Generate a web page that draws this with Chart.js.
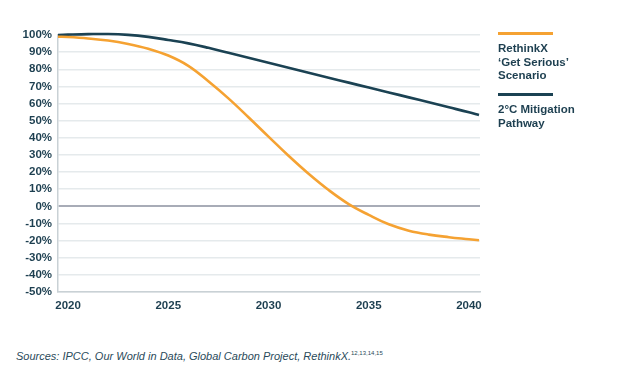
<!DOCTYPE html>
<html>
<head>
<meta charset="utf-8">
<script src="https://cdn.jsdelivr.net/npm/chart.js@4.4.1/dist/chart.umd.min.js"></script>
<style>
  html, body { margin: 0; padding: 0; background: #fff; }
  body { width: 638px; height: 390px; position: relative; overflow: hidden; font-family: "Liberation Sans", Arial, sans-serif; }
  #wrap { position: absolute; left: 0; top: 0; width: 500px; height: 320px; }
  .legend { position: absolute; left: 498px; color: #1d3f50; font-weight: bold; font-size: 11.5px; line-height: 13.5px; }
  .legend .bar { width: 55px; height: 3px; margin-bottom: 7px; }
  #source { position: absolute; left: 16px; top: 350px; font-style: italic; font-size: 11px; color: #2a4a5a; }
  #source sup { font-size: 6px; font-style: normal; vertical-align: 5px; }
</style>
</head>
<body>
<div id="wrap"><canvas id="chart"></canvas></div>
<div class="legend" style="top:32px"><div class="bar" style="background:#f5a232"></div>RethinkX<br>‘Get Serious’<br>Scenario</div>
<div class="legend" style="top:93px"><div class="bar" style="background:#1b4253"></div>2°C Mitigation<br>Pathway</div>
<div id="source">Sources: IPCC, Our World in Data, Global Carbon Project, RethinkX.<sup>12,13,14,15</sup></div>
<script>
// Années (la première et la dernière débordent un peu des graduations)
const years = [2019.5, 2020, 2021, 2022, 2023, 2024, 2025, 2026, 2027, 2028, 2029, 2030,
               2031, 2032, 2033, 2034, 2035, 2036, 2037, 2038, 2039, 2040, 2040.5];
// Scénario RethinkX 'Get Serious' (% des émissions de 2020)
const rethinkx = [99, 98.8, 98, 96.8, 94.8, 92, 88, 82, 73, 63, 52, 40.7,
                  29.5, 19, 9.5, 1.3, -5, -10.5, -14.2, -16.5, -18, -19.2, -19.8];
// Trajectoire 2°C
const mitigation = [100, 100.2, 100.5, 100.6, 100.1, 98.9, 97.1, 95.1, 92.5, 89.6, 86.7, 83.8,
                    80.9, 78, 75.1, 72.2, 69.3, 66.5, 63.6, 60.7, 57.8, 54.9, 53.3];
const xTicks = [2020, 2025, 2030, 2035, 2040];

const tickFont = { family: '"Liberation Sans", Arial, sans-serif', size: 11.5, weight: 'bold' };
const textColor = '#1d3f50';

const toPoints = arr => arr.map((v, i) => ({ x: years[i], y: v }));

new Chart(document.getElementById('chart'), {
    type: 'line',
    data: {
        datasets: [
            {
                label: 'RethinkX ‘Get Serious’ Scenario',
                data: toPoints(rethinkx),
                borderColor: '#f5a232',
                borderWidth: 2.6,
                pointRadius: 0,
                tension: 0.4,
                clip: 4
            },
            {
                label: '2°C Mitigation Pathway',
                data: toPoints(mitigation),
                borderColor: '#1b4253',
                borderWidth: 2.6,
                pointRadius: 0,
                tension: 0.4,
                clip: 4
            }
        ]
    },
    options: {
        responsive: true,
        maintainAspectRatio: false,
        animation: false,
        layout: { padding: { top: 35, right: 20, left: 0, bottom: 0 } },
        plugins: { legend: { display: false }, tooltip: { enabled: false } },
        scales: {
            x: {
                type: 'linear',
                min: 2019.5,
                max: 2040.55,
                afterBuildTicks: scale => { scale.ticks = xTicks.map(v => ({ value: v })); },
                afterFit: scale => { scale.height = 28; },
                grid: { display: false, drawTicks: false },
                border: { display: true, color: '#c9d1d5', width: 1.5 },
                ticks: {
                    font: tickFont,
                    color: textColor,
                    padding: 7,
                    maxRotation: 0,
                    autoSkip: false,
                    callback: v => String(v)
                }
            },
            y: {
                min: -50,
                max: 100,
                afterFit: scale => { scale.width = 58; },
                border: { display: true, color: '#c9d1d5', width: 1.5 },
                grid: {
                    drawTicks: false,
                    color: ctx => ctx.tick.value === 0 ? '#a8acb7' : '#e5eaec',
                    lineWidth: ctx => ctx.tick.value === 0 ? 2 : 1.5
                },
                ticks: {
                    stepSize: 10,
                    font: tickFont,
                    color: textColor,
                    padding: 6,
                    callback: v => v + '%'
                }
            }
        }
    }
});
</script>
</body>
</html>
